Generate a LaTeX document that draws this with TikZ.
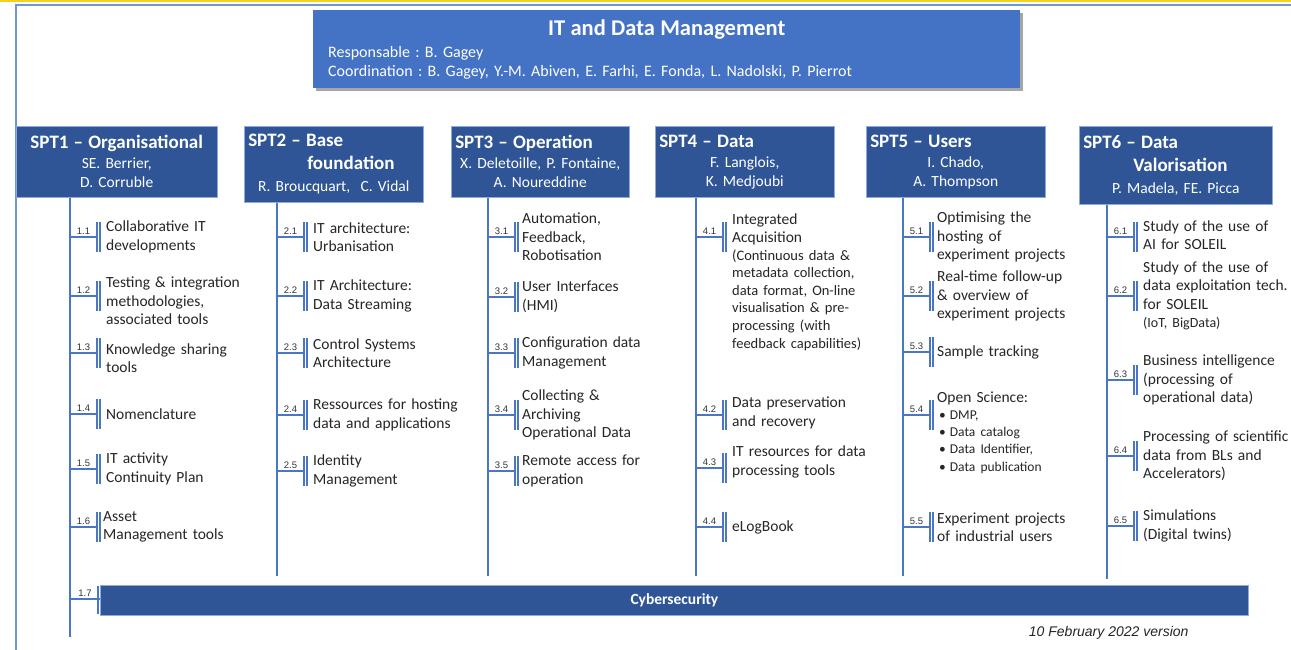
\documentclass[tikz,border=0pt]{standalone}
\usepackage{fontspec}
\setmainfont{Carlito}
\newfontfamily\arialfont{Liberation Sans}
\usetikzlibrary{calc,shadows}
\frenchspacing

\definecolor{topblue}{HTML}{4472C4}
\definecolor{sptblue}{HTML}{2F5597}
\definecolor{wireblue}{HTML}{4A76C6}
\definecolor{edgeblue}{HTML}{8FAADC}
\definecolor{frameblue}{HTML}{6F95D2}
\definecolor{inktext}{HTML}{262626}
\definecolor{yellowband}{HTML}{F2D31B}

% big bold header line
\newcommand{\hd}{\fontsize{19}{23}\selectfont\bfseries}

% one task on a spine: [node options]{name}{y}{number}{text}
\newcommand{\task}[5][]{%
\coordinate (#2a) at (0,#3);
\coordinate (#2b) at (27,#3);
\draw[branch] (#2a) -- (#2b) node[midway,above,numlabel] {#4};
\draw[tick] ($(#2b)+(0,-15)$) -- ($(#2b)+(0,15)$);
\draw[tick] ($(#2b)+(3,-15)$) -- ($(#2b)+(3,15)$);
\node[task,#1] (#2) at (36,#3) {#5};
}

\begin{document}
\begin{tikzpicture}[x=1pt,y=-1pt,
spine/.style={wireblue,line width=2.4pt},
branch/.style={wireblue,line width=2pt},
tick/.style={wireblue,line width=1.4pt},
numlabel/.style={font=\arialfont\fontsize{9.5}{10}\selectfont,text=black!80,inner sep=1.2pt},
task/.style={anchor=west,align=left,text width=160,inner sep=0pt,text=inktext,font=\fontsize{15.5}{18.5}\selectfont},
header/.style={anchor=north west,fill=sptblue,draw=edgeblue,line width=0.5pt,text=white,align=center,inner xsep=4pt,inner ysep=0pt,font=\fontsize{15.5}{19}\selectfont},
topbox/.style={anchor=north west,fill=topblue,text=white,align=left,text width=677,inner xsep=15pt,inner ysep=0pt,minimum height=78,font=\fontsize{16}{19}\selectfont,drop shadow={shadow xshift=3pt,shadow yshift=-3pt,opacity=0.35,fill=black}},
cyberbar/.style={anchor=west,fill=sptblue,draw=edgeblue,line width=0.8pt,minimum width=1148,minimum height=30,inner sep=0pt,text=white,font=\fontsize{15.5}{18}\selectfont\bfseries}
]

\fill[white] (0,0) rectangle (1291,650);
\useasboundingbox (0,0) rectangle (1291,650);

% frame
\fill[yellowband] (0,0) rectangle (1291,2.5);
\draw[frameblue,line width=1.2pt] (16,650) -- (16,5) -- (1291,5);

\node[topbox] (itdm) at (313,10)
{\makebox[\linewidth][c]{\fontsize{22.5}{26}\selectfont\bfseries IT and Data Management}\\[3pt]
Responsable : B. Gagey\\
Coordination : B. Gagey, Y.-M. Abiven, E. Farhi, E. Fonda, L. Nadolski, P. Pierrot};

\node[cyberbar] (cyber) at (100,600) {Cybersecurity};


% SPT1
\begin{scope}[shift={(70,0)}]
\node[header,text width=193,minimum height=71] (spt1) at (-54,126)
{{\hd SPT1 – Organisational}\\[1pt]SE. Berrier,\\D. Corruble};
\coordinate (s1end) at (0,637);
\draw[spine] (spt1.south -| s1end) -- (s1end);

\task{t11}{237}{1.1}{Collaborative IT\\developments}
\task[yshift=-5pt]{t12}{296}{1.2}{Testing \& integration\\methodologies,\\associated tools}
\task[yshift=-5pt]{t13}{353}{1.3}{Knowledge sharing\\tools}
\task{t14}{414}{1.4}{Nomenclature}
\task{t15}{469}{1.5}{IT activity\\Continuity Plan}
\task[xshift=-3pt]{t16}{527}{1.6}{Asset\\Management tools}

\coordinate (t17a) at (0,599);
\draw[branch] (t17a) -- (t17a -| cyber.west) node[midway,above,numlabel] {1.7};
\draw[tick] ($(cyber.west)+(-2,-14)$) -- ($(cyber.west)+(-2,14)$);
\end{scope}


% SPT2
\begin{scope}[shift={(277,0)}]
\node[header,text width=171,minimum height=76] (spt2) at (-33,126)
{\makebox[\linewidth][l]{\hd SPT2 – Base}\\[4pt]
\makebox[\linewidth][l]{\hspace*{59pt}\hd foundation}\\[3pt]
R. Broucquart,~~C. Vidal};
\coordinate (s2end) at (0,576);
\draw[spine] (spt2.south -| s2end) -- (s2end);

\task{t21}{237}{2.1}{IT architecture:\\Urbanisation}
\task{t22}{296}{2.2}{IT Architecture:\\Data Streaming}
\task{t23}{353}{2.3}{Control Systems\\Architecture}
\task{t24}{415}{2.4}{Ressources for hosting\\data and applications}
\task{t25}{471}{2.5}{Identity\\Management}
\end{scope}


% SPT3
\begin{scope}[shift={(488,0)},task/.append style={xshift=-2pt}]
\node[header,text width=170,minimum height=71] (spt3) at (-37,126)
{\makebox[\linewidth][l]{\hd SPT3 – Operation}\\[1pt]
X. Deletoille, P. Fontaine,\\A. Noureddine};
\coordinate (s3end) at (0,576);
\draw[spine] (spt3.south -| s3end) -- (s3end);

\task{t31}{237}{3.1}{Automation,\\Feedback,\\Robotisation}
\task{t32}{297}{3.2}{User Interfaces\\(HMI)}
\task{t33}{353}{3.3}{Configuration data\\Management}
\task{t34}{415}{3.4}{Collecting \&\\Archiving\\Operational Data}
\task{t35}{471}{3.5}{Remote access for\\operation}
\end{scope}


% SPT4
\begin{scope}[shift={(696,0)}]
\node[header,text width=171,minimum height=71] (spt4) at (-41,126)
{\makebox[\linewidth][l]{\hd SPT4 – Data}\\[1pt]
F. Langlois,\\K. Medjoubi};
\coordinate (s4end) at (0,576);
\draw[spine] (spt4.south -| s4end) -- (s4end);

\task[anchor=north west,yshift=23.5pt]{t41}{237}{4.1}{Integrated\\Acquisition\par
\fontsize{14.5}{17.5}\selectfont(Continuous data \&\\metadata collection,\\data format, On-line\\visualisation \& pre-\\processing (with\\feedback capabilities)}
\task[yshift=2pt]{t42}{415}{4.2}{Data preservation\\and recovery}
\task[yshift=6pt]{t43}{468}{4.3}{IT resources for data\\processing tools}
\task{t44}{527}{4.4}{eLogBook}
\end{scope}


% SPT5
\begin{scope}[shift={(903,0)},task/.append style={xshift=-2pt}]
\node[header,text width=171,minimum height=71] (spt5) at (-37,126)
{\makebox[\linewidth][l]{\hd SPT5 – Users}\\[1pt]
I. Chado,\\A. Thompson};
\coordinate (s5end) at (0,576);
\draw[spine] (spt5.south -| s5end) -- (s5end);

\task{t51}{237}{5.1}{Optimising the\\hosting of\\experiment projects}
\task{t52}{296}{5.2}{Real-time follow-up\\\& overview of\\experiment projects}
\task{t53}{352}{5.3}{Sample tracking}
\task[anchor=north west,yshift=23.5pt]{t54}{415}{5.4}{Open Science:\par
\fontsize{13.5}{17}\selectfont
\hspace*{2pt}\textbullet\hspace{4pt}DMP,\\
\hspace*{2pt}\textbullet\hspace{4pt}Data catalog\\
\hspace*{2pt}\textbullet\hspace{4pt}Data Identifier,\\
\hspace*{2pt}\textbullet\hspace{4pt}Data publication}
\task{t55}{527}{5.5}{Experiment projects\\of industrial users}
\end{scope}


% SPT6
\begin{scope}[shift={(1107,0)}]
\node[header,text width=185,minimum height=78] (spt6) at (-28,126)
{\makebox[\linewidth][l]{\hd SPT6 – Data}\\[4pt]
\makebox[\linewidth][l]{\hspace*{50pt}\hd Valorisation}\\[3pt]
P. Madela, FE. Picca};
\coordinate (s6end) at (0,579);
\draw[spine] (spt6.south -| s6end) -- (s6end);

\task[yshift=2pt]{t61}{237}{6.1}{Study of the use of\\AI for SOLEIL}
\task{t62}{296}{6.2}{Study of the use of\\data exploitation tech.\\for SOLEIL\par
\fontsize{14}{18}\selectfont(IoT, BigData)}
\task{t63}{380}{6.3}{Business intelligence\\(processing of\\operational data)}
\task{t64}{456}{6.4}{Processing of scientific\\data from BLs and\\Accelerators)}
\task{t65}{526}{6.5}{Simulations\\(Digital twins)}
\end{scope}

\node[anchor=east,font=\arialfont\itshape\fontsize{14}{16}\selectfont,text=inktext] (version) at (1192,633) {10 February 2022 version};

\end{tikzpicture}
\end{document}
